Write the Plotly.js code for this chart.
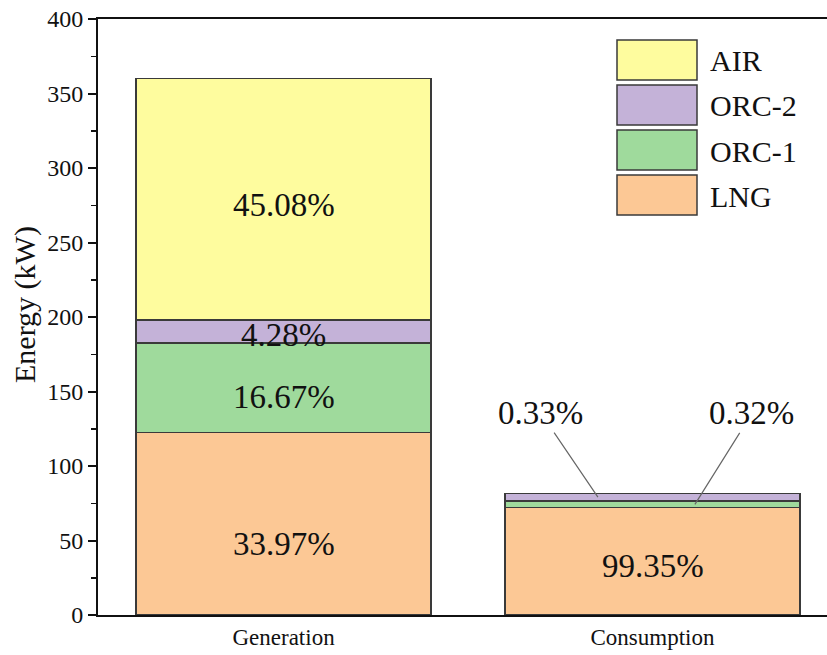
<!DOCTYPE html>
<html>
<head>
<meta charset="utf-8">
<script src="https://cdn.plot.ly/plotly-3.0.1.min.js"></script>
<style>
#chart text, #chart .annotation-text, #chart tspan { font-family: "Liberation Serif", "Times New Roman", serif !important; }
</style>
</head>
<body style="margin:0;background:#fff">
<div id="chart" style="width:827px;height:655px"></div>
<script>
// ---- data ----
const categories = ["Generation", "Consumption"];
const seriesNames = ["LNG", "ORC-1", "ORC-2", "AIR"];
const LNG   = [122.5, 72.0];
const ORC1  = [60.0, 4.5];
const ORC2  = [15.5, 5.2];
const AIR   = [162.0, 0];
const pctGeneration = ["33.97%", "16.67%", "4.28%", "45.08%"];
const pctConsumption = ["99.35%", "0.32%", "0.33%"];
const yTicks = [0, 50, 100, 150, 200, 250, 300, 350, 400];

const colors = ["#fcc895", "#9fda9c", "#c4b2d8", "#fefc9e"];
const seriesValues = [LNG, ORC1, ORC2, AIR];
const FAM = "Liberation Serif";

const traces = seriesNames.map((n, i) => ({
  type: "bar", name: n, x: categories, y: seriesValues[i],
  width: 0.8, showlegend: false,
  marker: {color: colors[i], line: {color: "#3a3a3a", width: 1.5}},
  hoverinfo: "x+y+name"
}));

function mid(ci, si) {
  let base = 0;
  for (let k = 0; k < si; k++) base += seriesValues[k][ci];
  return base + seriesValues[si][ci] / 2;
}

const annotations = [];
const genShift = [-20, -9, -3, -6];
pctGeneration.forEach((t, si) => {
  annotations.push({x: 0, y: mid(0, si), xref: "x", yref: "y", text: t, showarrow: false,
    yshift: genShift[si], font: {family: FAM, size: 33}});
});
annotations.push({x: 1, y: mid(1, 0), xref: "x", yref: "y", text: pctConsumption[0], showarrow: false,
  yshift: -5, font: {family: FAM, size: 33}});
annotations.push({x: 0.852, y: mid(1, 2), xref: "x", yref: "y", text: pctConsumption[2], showarrow: true,
  arrowhead: 0, arrowwidth: 1.2, arrowcolor: "#666", ax: -57, ay: -84, standoff: 0,
  font: {family: FAM, size: 33}});
annotations.push({x: 1.115, y: mid(1, 1), xref: "x", yref: "y", text: pctConsumption[1], showarrow: true,
  arrowhead: 0, arrowwidth: 1.2, arrowcolor: "#666", ax: 57, ay: -91, standoff: 0,
  font: {family: FAM, size: 33}});

const L = 98, T = 19, W = 729, H = 596;
const px = x => (x - L) / W, py = y => (T + H - y) / H;
const shapes = [];
const legendOrder = [3, 2, 1, 0];
legendOrder.forEach((si, r) => {
  const top = 40 + r * 45;
  shapes.push({type: "rect", xref: "paper", yref: "paper",
    x0: px(617), x1: px(697), y0: py(top + 40), y1: py(top),
    fillcolor: colors[si], line: {color: "#3a3a3a", width: 1.5}});
  annotations.push({xref: "paper", yref: "paper", x: px(708), y: py(top + 21),
    xanchor: "left", yanchor: "middle", showarrow: false, text: seriesNames[si],
    font: {family: FAM, size: 30}});
});
// y-axis title
annotations.push({xref: "paper", yref: "paper", x: px(25), y: py(305), xanchor: "center", yanchor: "middle",
  textangle: -90, showarrow: false, text: "Energy (kW)", font: {family: FAM, size: 30}});

const layout = {
  width: 827, height: 655,
  margin: {l: L, r: 827 - L - W, t: T, b: 655 - T - H},
  paper_bgcolor: "#fff", plot_bgcolor: "#fff",
  barmode: "stack",
  showlegend: false,
  font: {family: FAM, color: "#111111"},
  xaxis: {type: "category", range: [-0.503, 1.473], showline: true, linecolor: "#111", linewidth: 2,
    mirror: true, ticks: "", showgrid: false, ticklabelstandoff: 0, tickfont: {family: FAM, size: 23}},
  yaxis: {range: [0, 400], tickvals: yTicks, ticktext: yTicks.map(String), ticks: "outside", ticklen: 8, tickwidth: 2,
    tickcolor: "#111", showline: true, linecolor: "#111", linewidth: 2, showgrid: false, zeroline: false,
    minor: {dtick: 25, ticks: "outside", ticklen: 5, tickwidth: 1.5, tickcolor: "#111", showgrid: false},
    tickfont: {family: FAM, size: 24}},
  annotations: annotations,
  shapes: shapes
};

Plotly.newPlot("chart", traces, layout, {displayModeBar: false, staticPlot: true});
</script>
</body>
</html>
